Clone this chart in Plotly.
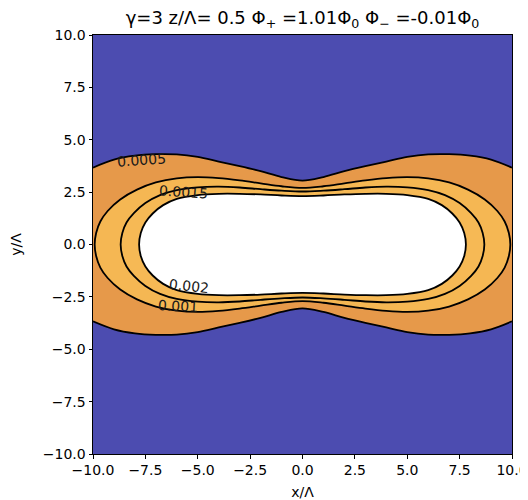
import plotly.graph_objects as go

# ---- data ----
levels = [0.0005, 0.001, 0.0015, 0.002]
level_labels = ["0.0005", "0.001", "0.0015", "0.002"]

# 0.0005 contour (open, runs off the sides): upper branch, left half (x from -10 to 0)
c0005_x = [-10, -9, -8, -7, -6, -5, -4, -3, -2, -1, 0]
c0005_y = [3.67, 4.05, 4.24, 4.31, 4.30, 4.18, 3.96, 3.74, 3.50, 3.22, 3.05]

# closed contours: upper-left quarter, from the leftmost point to x = 0
c001_x = [-9.92, -9.85, -9.65, -9.3, -8.7, -7.9, -7.0, -6.0, -5.0, -4.0, -3.0, -2.0, -1.0, 0]
c001_y = [0.0, 0.55, 1.1, 1.6, 2.15, 2.62, 2.96, 3.16, 3.22, 3.17, 3.06, 2.92, 2.78, 2.70]

c0015_x = [-8.68, -8.6, -8.4, -8.05, -7.5, -6.8, -6.0, -5.0, -4.0, -3.0, -2.0, -1.0, 0]
c0015_y = [0.0, 0.55, 1.05, 1.5, 1.98, 2.36, 2.6, 2.73, 2.76, 2.72, 2.64, 2.57, 2.53]

c002_x = [-7.8, -7.72, -7.5, -7.15, -6.65, -6.0, -5.0, -4.0, -3.0, -2.0, -1.0, 0]
c002_y = [0.0, 0.55, 1.05, 1.48, 1.88, 2.18, 2.36, 2.42, 2.42, 2.39, 2.34, 2.31]

# inline contour label anchors (data coords)
label_text = ["0.0005", "0.001", "0.0015", "0.002"]
label_x = [-7.7, -5.95, -5.7, -5.42]
label_y = [4.03, -2.94, 2.53, -1.98]

tick_vals = [-10, -7.5, -5, -2.5, 0, 2.5, 5, 7.5, 10]
tick_text = ["\u221210.0", "\u22127.5", "\u22125.0", "\u22122.5", "0.0", "2.5", "5.0", "7.5", "10.0"]


def mirror_open(xs, ys):
    X = list(xs) + [-x for x in reversed(xs[:-1])]
    Y = list(ys) + list(reversed(ys[:-1]))
    return X, Y


def closed_loop(xs, ys):
    n = len(xs)
    pts = []
    for i in range(n - 1, -1, -1):
        pts.append((xs[i], ys[i]))
    for i in range(1, n):
        pts.append((xs[i], -ys[i]))
    for i in range(n - 2, -1, -1):
        pts.append((-xs[i], -ys[i]))
    for i in range(1, n):
        pts.append((-xs[i], ys[i]))
    return [p[0] for p in pts], [p[1] for p in pts]


BLUE = "#4c4cb0"
ORANGE = "#e6994a"
LIGHT1 = "#f5b753"
LIGHT2 = "#f6b955"

fig = go.Figure()

ox, oy = mirror_open(c0005_x, c0005_y)
# filled bands
fig.add_trace(go.Scatter(x=ox, y=oy, mode="lines", line=dict(width=0, shape="spline", color=ORANGE),
                         hoverinfo="skip", showlegend=False))
fig.add_trace(go.Scatter(x=ox, y=[-v for v in oy], mode="lines", fill="tonexty", fillcolor=ORANGE,
                         line=dict(width=0, shape="spline", color=ORANGE), hoverinfo="skip", showlegend=False))

loops = [closed_loop(c001_x, c001_y), closed_loop(c0015_x, c0015_y), closed_loop(c002_x, c002_y)]
for (lx, ly), col in zip(loops, [LIGHT1, LIGHT2, "white"]):
    fig.add_trace(go.Scatter(x=lx, y=ly, mode="lines", fill="toself", fillcolor=col,
                             line=dict(width=0, shape="spline", color=col), hoverinfo="skip", showlegend=False))

# contour lines
LW = 1.8
fig.add_trace(go.Scatter(x=ox, y=oy, mode="lines", line=dict(width=LW, shape="spline", color="black"),
                         hoverinfo="skip", showlegend=False))
fig.add_trace(go.Scatter(x=ox, y=[-v for v in oy], mode="lines", line=dict(width=LW, shape="spline", color="black"),
                         hoverinfo="skip", showlegend=False))
for lx, ly in loops:
    fig.add_trace(go.Scatter(x=lx, y=ly, mode="lines", line=dict(width=LW, shape="spline", color="black"),
                             hoverinfo="skip", showlegend=False))

angles = [-4, 3, 4, 6]
for t, x, y, a in zip(label_text, label_x, label_y, angles):
    fig.add_annotation(x=x, y=y, text=t, showarrow=False, textangle=a,
                       font=dict(family="DejaVu Sans", size=14, color="#1a1a1a"))

axis_common = dict(range=[-10, 10], showgrid=False, zeroline=False, showline=True, mirror=True,
                   linecolor="black", linewidth=1, ticks="outside", ticklen=3.5, tickwidth=1,
                   tickcolor="black", tickvals=tick_vals, ticktext=tick_text, automargin=False,
                   tickfont=dict(family="DejaVu Sans", size=14, color="black"))

# the page body adds an 8px offset, so the figure is sized/margined to compensate
fig.update_layout(
    width=520, height=492, autosize=False,
    margin=dict(l=85, r=16, t=27, b=46, pad=0),
    paper_bgcolor="white", plot_bgcolor=BLUE,
    font=dict(family="DejaVu Sans", color="black"),
    title=dict(text="\u03b3=3 z/\u039b= 0.5 \u03a6<sub>+</sub> =1.01\u03a6<sub>0</sub> \u03a6<sub>\u2212</sub> =-0.01\u03a6<sub>0</sub>",
               x=0.5, xref="paper", xanchor="center", y=0.98, yref="container", yanchor="middle",
               automargin=False, font=dict(family="DejaVu Sans", size=18, color="black")),
    xaxis=dict(axis_common, title=dict(text="x/\u039b", font=dict(size=14), standoff=11)),
    yaxis=dict(axis_common, title=dict(text="y/\u039b", font=dict(size=14), standoff=18)),
)

fig.write_html("out.html")
